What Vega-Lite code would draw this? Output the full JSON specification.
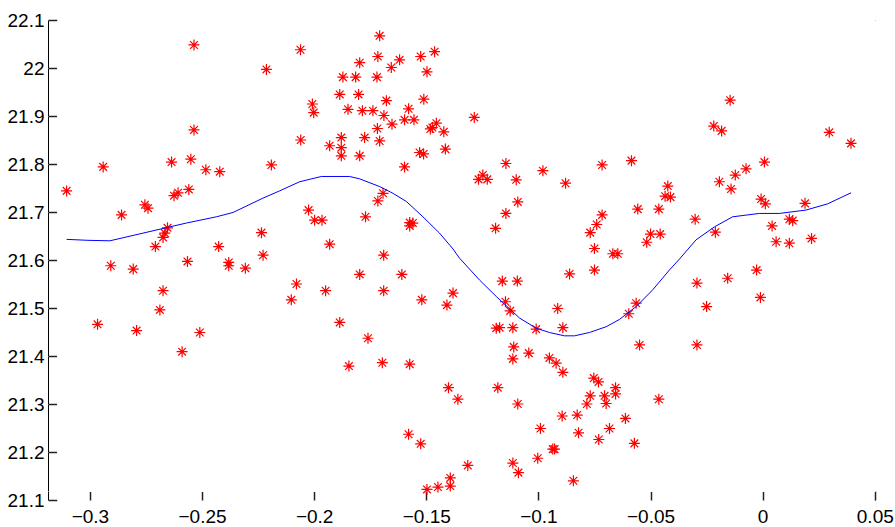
{
  "$schema": "https://vega.github.io/schema/vega-lite/v6.json",
  "width": 827,
  "height": 480,
  "autosize": {"type": "none"},
  "padding": {"left": 48, "top": 20, "right": 20, "bottom": 27},
  "background": "white",
  "config": {
    "view": {"stroke": "black", "strokeWidth": 1}
  },
  "datasets": {
    "pts": [
      {"x": -0.3104, "y": 21.744}, {"x": -0.2941, "y": 21.794}, {"x": -0.2859, "y": 21.694}, {"x": -0.2755, "y": 21.715},
      {"x": -0.2741, "y": 21.708}, {"x": -0.2708, "y": 21.628}, {"x": -0.2674, "y": 21.647}, {"x": -0.2666, "y": 21.656},
      {"x": -0.2654, "y": 21.667}, {"x": -0.2636, "y": 21.804}, {"x": -0.2625, "y": 21.734}, {"x": -0.2607, "y": 21.740},
      {"x": -0.2559, "y": 21.747}, {"x": -0.2550, "y": 21.810}, {"x": -0.2536, "y": 21.871}, {"x": -0.2536, "y": 22.048},
      {"x": -0.2483, "y": 21.788}, {"x": -0.2426, "y": 21.628}, {"x": -0.2421, "y": 21.784}, {"x": -0.2235, "y": 21.657},
      {"x": -0.2228, "y": 21.610}, {"x": -0.2213, "y": 21.997}, {"x": -0.2191, "y": 21.798}, {"x": -0.2061, "y": 22.038},
      {"x": -0.2060, "y": 21.850}, {"x": -0.2907, "y": 21.588}, {"x": -0.2807, "y": 21.581}, {"x": -0.2565, "y": 21.597},
      {"x": -0.2381, "y": 21.595}, {"x": -0.2381, "y": 21.588}, {"x": -0.2307, "y": 21.583}, {"x": -0.2079, "y": 21.550},
      {"x": -0.2102, "y": 21.517}, {"x": -0.2674, "y": 21.536}, {"x": -0.2688, "y": 21.496}, {"x": -0.2966, "y": 21.466},
      {"x": -0.2792, "y": 21.453}, {"x": -0.2510, "y": 21.449}, {"x": -0.2589, "y": 21.409},
      {"x": -0.1708, "y": 22.067}, {"x": -0.1463, "y": 22.034}, {"x": -0.1525, "y": 22.024}, {"x": -0.1716, "y": 22.024},
      {"x": -0.1619, "y": 22.017}, {"x": -0.1797, "y": 22.011}, {"x": -0.1656, "y": 22.001}, {"x": -0.1497, "y": 21.992},
      {"x": -0.1872, "y": 21.981}, {"x": -0.1815, "y": 21.981}, {"x": -0.1720, "y": 21.981}, {"x": -0.1886, "y": 21.945},
      {"x": -0.1802, "y": 21.945}, {"x": -0.1678, "y": 21.932}, {"x": -0.1511, "y": 21.935}, {"x": -0.2008, "y": 21.925},
      {"x": -0.2002, "y": 21.907}, {"x": -0.1849, "y": 21.914}, {"x": -0.1785, "y": 21.911}, {"x": -0.1738, "y": 21.911},
      {"x": -0.1579, "y": 21.915}, {"x": -0.1689, "y": 21.901}, {"x": -0.1597, "y": 21.892}, {"x": -0.1555, "y": 21.892},
      {"x": -0.1653, "y": 21.883}, {"x": -0.1455, "y": 21.885}, {"x": -0.1718, "y": 21.874}, {"x": -0.1482, "y": 21.873},
      {"x": -0.1473, "y": 21.876}, {"x": -0.1422, "y": 21.867}, {"x": -0.1286, "y": 21.897},
      {"x": -0.1879, "y": 21.855}, {"x": -0.1931, "y": 21.838}, {"x": -0.1879, "y": 21.834}, {"x": -0.1879, "y": 21.817},
      {"x": -0.1775, "y": 21.855}, {"x": -0.1708, "y": 21.848}, {"x": -0.1797, "y": 21.817}, {"x": -0.1530, "y": 21.824},
      {"x": -0.1512, "y": 21.821}, {"x": -0.1415, "y": 21.831}, {"x": -0.1597, "y": 21.794}, {"x": -0.1145, "y": 21.801},
      {"x": -0.1267, "y": 21.768}, {"x": -0.1248, "y": 21.777}, {"x": -0.1228, "y": 21.768}, {"x": -0.1099, "y": 21.767},
      {"x": -0.1092, "y": 21.721}, {"x": -0.1145, "y": 21.697}, {"x": -0.1191, "y": 21.666}, {"x": -0.2025, "y": 21.704},
      {"x": -0.1998, "y": 21.683}, {"x": -0.1965, "y": 21.683}, {"x": -0.1931, "y": 21.633}, {"x": -0.1771, "y": 21.690},
      {"x": -0.1693, "y": 21.739}, {"x": -0.1716, "y": 21.723}, {"x": -0.1574, "y": 21.678}, {"x": -0.1560, "y": 21.677},
      {"x": -0.1574, "y": 21.671}, {"x": -0.1690, "y": 21.610},
      {"x": -0.1949, "y": 21.536}, {"x": -0.1797, "y": 21.570}, {"x": -0.1609, "y": 21.570}, {"x": -0.1690, "y": 21.536},
      {"x": -0.1520, "y": 21.517}, {"x": -0.1886, "y": 21.470}, {"x": -0.1760, "y": 21.437}, {"x": -0.1845, "y": 21.379},
      {"x": -0.1696, "y": 21.386}, {"x": -0.1574, "y": 21.383}, {"x": -0.1381, "y": 21.531}, {"x": -0.1408, "y": 21.506},
      {"x": -0.1161, "y": 21.556}, {"x": -0.1094, "y": 21.556}, {"x": -0.1147, "y": 21.513}, {"x": -0.1126, "y": 21.494},
      {"x": -0.1188, "y": 21.458}, {"x": -0.1173, "y": 21.459}, {"x": -0.1114, "y": 21.459}, {"x": -0.1110, "y": 21.419},
      {"x": -0.1114, "y": 21.394}, {"x": -0.1401, "y": 21.334}, {"x": -0.1359, "y": 21.310}, {"x": -0.1181, "y": 21.334},
      {"x": -0.1092, "y": 21.300}, {"x": -0.1579, "y": 21.237}, {"x": -0.1525, "y": 21.217}, {"x": -0.1315, "y": 21.172},
      {"x": -0.1114, "y": 21.177}, {"x": -0.1089, "y": 21.157}, {"x": -0.1393, "y": 21.146}, {"x": -0.1393, "y": 21.129},
      {"x": -0.1448, "y": 21.127}, {"x": -0.1497, "y": 21.122},
      {"x": -0.0980, "y": 21.786}, {"x": -0.0879, "y": 21.760}, {"x": -0.0716, "y": 21.798}, {"x": -0.0585, "y": 21.807},
      {"x": -0.0423, "y": 21.754}, {"x": -0.0435, "y": 21.733}, {"x": -0.0411, "y": 21.731}, {"x": -0.0557, "y": 21.706},
      {"x": -0.0463, "y": 21.706}, {"x": -0.0716, "y": 21.694}, {"x": -0.0740, "y": 21.674}, {"x": -0.0769, "y": 21.657},
      {"x": -0.0750, "y": 21.624}, {"x": -0.0668, "y": 21.613}, {"x": -0.0646, "y": 21.613}, {"x": -0.0500, "y": 21.654},
      {"x": -0.0457, "y": 21.654}, {"x": -0.0517, "y": 21.637}, {"x": -0.0301, "y": 21.685},
      {"x": -0.0750, "y": 21.579}, {"x": -0.0861, "y": 21.571}, {"x": -0.0293, "y": 21.552}, {"x": -0.0914, "y": 21.499},
      {"x": -0.0564, "y": 21.510}, {"x": -0.0597, "y": 21.488}, {"x": -0.1010, "y": 21.456}, {"x": -0.0891, "y": 21.459},
      {"x": -0.1043, "y": 21.406}, {"x": -0.0951, "y": 21.396}, {"x": -0.0921, "y": 21.385}, {"x": -0.0891, "y": 21.366},
      {"x": -0.0549, "y": 21.423}, {"x": -0.0293, "y": 21.423}, {"x": -0.0753, "y": 21.354}, {"x": -0.0732, "y": 21.346},
      {"x": -0.0656, "y": 21.334}, {"x": -0.0656, "y": 21.321}, {"x": -0.0769, "y": 21.317}, {"x": -0.0705, "y": 21.317},
      {"x": -0.0698, "y": 21.301}, {"x": -0.0784, "y": 21.300}, {"x": -0.0463, "y": 21.310}, {"x": -0.0894, "y": 21.275},
      {"x": -0.0827, "y": 21.277}, {"x": -0.0612, "y": 21.270}, {"x": -0.0991, "y": 21.249}, {"x": -0.0821, "y": 21.240},
      {"x": -0.0683, "y": 21.249}, {"x": -0.0731, "y": 21.226}, {"x": -0.0572, "y": 21.218}, {"x": -0.0936, "y": 21.206},
      {"x": -0.0928, "y": 21.206}, {"x": -0.1003, "y": 21.187}, {"x": -0.0844, "y": 21.140},
      {"x": -0.0145, "y": 21.933}, {"x": -0.0218, "y": 21.879}, {"x": -0.0183, "y": 21.869}, {"x": 0.0297, "y": 21.866},
      {"x": 0.0394, "y": 21.843}, {"x": 0.0008, "y": 21.804}, {"x": -0.0074, "y": 21.790}, {"x": -0.0122, "y": 21.777},
      {"x": -0.0193, "y": 21.763}, {"x": -0.0141, "y": 21.748}, {"x": -0.0007, "y": 21.727}, {"x": 0.0012, "y": 21.717},
      {"x": 0.0189, "y": 21.718}, {"x": 0.0119, "y": 21.685}, {"x": 0.0134, "y": 21.682}, {"x": 0.0042, "y": 21.671},
      {"x": -0.0211, "y": 21.658}, {"x": 0.0060, "y": 21.638}, {"x": 0.0119, "y": 21.635}, {"x": 0.0218, "y": 21.645},
      {"x": -0.0027, "y": 21.579}, {"x": -0.0156, "y": 21.562}, {"x": -0.0010, "y": 21.522}, {"x": -0.0250, "y": 21.503}
    ],
    "curve": [
      {"x": -0.3104, "y": 21.643}, {"x": -0.3009, "y": 21.641}, {"x": -0.2911, "y": 21.640}, {"x": -0.2763, "y": 21.656},
      {"x": -0.2570, "y": 21.677}, {"x": -0.2436, "y": 21.690}, {"x": -0.2362, "y": 21.699}, {"x": -0.2228, "y": 21.729},
      {"x": -0.2154, "y": 21.744}, {"x": -0.2065, "y": 21.763}, {"x": -0.1968, "y": 21.774}, {"x": -0.1842, "y": 21.774},
      {"x": -0.1797, "y": 21.769}, {"x": -0.1708, "y": 21.753}, {"x": -0.1649, "y": 21.739}, {"x": -0.1589, "y": 21.722},
      {"x": -0.1515, "y": 21.690}, {"x": -0.1441, "y": 21.656}, {"x": -0.1381, "y": 21.623}, {"x": -0.1352, "y": 21.604},
      {"x": -0.1262, "y": 21.558}, {"x": -0.1188, "y": 21.524}, {"x": -0.1114, "y": 21.492}, {"x": -0.1084, "y": 21.479},
      {"x": -0.1010, "y": 21.458}, {"x": -0.0951, "y": 21.449}, {"x": -0.0884, "y": 21.442}, {"x": -0.0839, "y": 21.442},
      {"x": -0.0772, "y": 21.449}, {"x": -0.0698, "y": 21.461}, {"x": -0.0639, "y": 21.476}, {"x": -0.0564, "y": 21.503},
      {"x": -0.0490, "y": 21.538}, {"x": -0.0416, "y": 21.579}, {"x": -0.0371, "y": 21.602}, {"x": -0.0297, "y": 21.642},
      {"x": -0.0215, "y": 21.669}, {"x": -0.0134, "y": 21.690}, {"x": -0.0015, "y": 21.697}, {"x": 0.0074, "y": 21.697},
      {"x": 0.0193, "y": 21.704}, {"x": 0.0290, "y": 21.717}, {"x": 0.0394, "y": 21.740}
    ]
  },
  "layer": [
    {
      "data": {"name": "pts"},
      "mark": {
        "type": "point",
        "shape": "M-1,0L1,0M0,-1L0,1M-0.7,-0.7L0.7,0.7M-0.7,0.7L0.7,-0.7",
        "filled": false,
        "color": "#FF0000",
        "strokeWidth": 1.2,
        "size": 121,
        "opacity": 1
      },
      "encoding": {
        "x": {
          "field": "x", "type": "quantitative",
          "scale": {"domain": [-0.3187, 0.0501], "nice": false, "zero": false},
          "axis": {"orient": "bottom", "title": null, "gridColor": "#ffffff", "domainColor": "#ffffff", "tickColor": "#222222", "tickWidth": 1.5, "tickSize": 9, "offset": -9, "labelFlush": false, "labelPadding": 7, "labelFont": "Liberation Sans", "labelFontSize": 19, "labelColor": "#000000", "values": [-0.3, -0.25, -0.2, -0.15, -0.1, -0.05, 0, 0.05], "format": "~g"}
        },
        "y": {
          "field": "y", "type": "quantitative",
          "scale": {"domain": [21.1, 22.1], "nice": false, "zero": false},
          "axis": {"orient": "left", "title": null, "gridColor": "#ffffff", "domainColor": "#ffffff", "tickColor": "#222222", "tickWidth": 1.5, "tickSize": 9, "offset": -9, "labelFlush": false, "labelPadding": 4, "labelFont": "Liberation Sans", "labelFontSize": 19, "labelColor": "#000000", "values": [21.1, 21.2, 21.3, 21.4, 21.5, 21.6, 21.7, 21.8, 21.9, 22, 22.1], "format": "~g"}
        }
      }
    },
    {
      "data": {"name": "curve"},
      "mark": {"type": "line", "color": "#0000FF", "strokeWidth": 1},
      "encoding": {
        "x": {"field": "x", "type": "quantitative"},
        "y": {"field": "y", "type": "quantitative"}
      }
    }
  ]
}
